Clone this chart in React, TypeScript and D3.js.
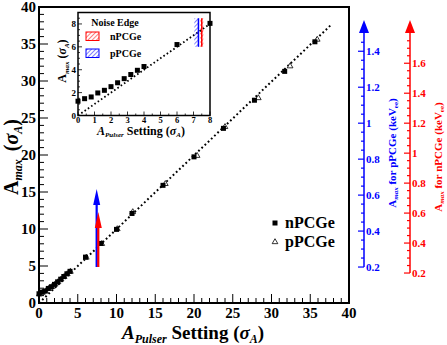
import React, { useEffect, useRef } from 'react';
import * as d3 from 'd3';

// pulser settings (sigma_A) and measured A_max
const nPulser = [0, 0.4, 0.8, 1.2, 1.6, 2.0, 2.4, 2.8, 3.2, 3.6, 4.0, 6.0, 8.0, 10.0, 12.0, 16.0, 20.0, 23.8, 27.8, 31.7, 35.6];
const nAmax = [1.25, 1.47, 1.62, 1.97, 2.2, 2.52, 2.86, 3.22, 3.58, 3.95, 4.28, 6.2, 8.05, 9.95, 12.1, 15.9, 19.75, 23.6, 27.4, 31.3, 35.3];
const pPulser = [0.05, 0.45, 0.85, 1.25, 1.65, 2.05, 2.45, 2.85, 3.25, 3.65, 4.05, 6.1, 8.1, 10.1, 12.1, 16.3, 20.4, 24.0, 28.3, 32.4, 35.9];
const pAmax = [1.2, 1.42, 1.6, 1.93, 2.18, 2.5, 2.83, 3.2, 3.55, 3.92, 4.24, 6.15, 8.0, 10.0, 12.3, 16.1, 19.9, 23.8, 27.7, 32.0, 35.6];

// noise edges: [setting, top of arrow]
const noiseEdgeP = [7.44, 15.4];
const noiseEdgeN = [7.65, 12.3];
// inset bands [x0, x1, line, y0, y1]
const bandP = [7.05, 7.3, 7.3, 6.0, 8.5];
const bandN = [7.4, 7.6, 7.5, 6.0, 8.5];

const xTicks = [0, 5, 10, 15, 20, 25, 30, 35, 40];
const yTicks = [0, 5, 10, 15, 20, 25, 30, 35, 40];
const insetXTicks = [0, 1, 2, 3, 4, 5, 6, 7, 8];
const insetYTicks = [0, 2, 4, 6, 8];
const blueTicks = [0.2, 0.4, 0.6, 0.8, 1.0, 1.2, 1.4];
const redTicks = [0.2, 0.4, 0.6, 0.8, 1.0, 1.2, 1.4, 1.6];
const blueFactor = 24.3; // sigma_A per keVee, pPCGe
const redFactor = 20.25; // sigma_A per keVee, nPCGe

const FONT = '"Liberation Serif", "Times New Roman", serif';
const BLUE = '#0000ff';
const RED = '#ff0000';
const NB = '\u00a0';

function App() {
    const ref = useRef<SVGSVGElement>(null);

    useEffect(() => {
        const svg = d3.select(ref.current);
        svg.selectAll('*').remove();
        svg.style('font-family', FONT).style('font-weight', 'bold');

        const x = d3.scaleLinear().domain([0, 40]).range([39, 349]);
        const y = d3.scaleLinear().domain([0, 40]).range([303, 7]);

        const defs = svg.append('defs');
        [['hatchRed', RED], ['hatchBlue', BLUE]].forEach(([id, c]) => {
            defs.append('pattern')
                .attr('id', id)
                .attr('width', 3).attr('height', 3)
                .attr('patternUnits', 'userSpaceOnUse')
                .attr('patternTransform', 'rotate(45)')
                .append('line')
                .attr('x1', 0).attr('y1', 0).attr('x2', 0).attr('y2', 3)
                .attr('stroke', c).attr('stroke-width', 1);
        });

        // main frame ticks
        const g = svg.append('g');
        d3.range(0, 41, 1).forEach(v => {
            const major = v % 5 === 0;
            g.append('line').attr('x1', x(v)).attr('x2', x(v))
                .attr('y1', 303).attr('y2', 303 - (major ? 9 : 5))
                .attr('stroke', '#000').attr('stroke-width', 1);
            g.append('line').attr('y1', y(v)).attr('y2', y(v))
                .attr('x1', 39).attr('x2', 39 + (major ? 9 : 5))
                .attr('stroke', '#000').attr('stroke-width', 1);
        });
        g.selectAll('.xl').data(xTicks).enter().append('text')
            .attr('x', d => x(d)).attr('y', 318)
            .attr('text-anchor', 'middle').attr('font-size', 15)
            .text(d => d);
        g.selectAll('.yl').data(yTicks).enter().append('text')
            .attr('x', 36).attr('y', d => y(d)).attr('dy', '0.35em')
            .attr('text-anchor', 'end').attr('font-size', 15)
            .text(d => d);

        // y = x reference
        g.append('line')
            .attr('x1', x(0)).attr('y1', y(0)).attr('x2', x(37.8)).attr('y2', y(37.7))
            .attr('stroke', '#000').attr('stroke-width', 2)
            .attr('stroke-dasharray', '1.8,2.6');

        // pPCGe triangles then nPCGe squares
        const tri = d3.symbol().type(d3.symbolTriangle).size(14);
        g.selectAll('.tri').data(pPulser).enter().append('path')
            .attr('d', tri)
            .attr('transform', (d, i) => `translate(${x(d)},${y(pAmax[i])})`)
            .attr('fill', '#fff').attr('stroke', '#000').attr('stroke-width', 0.8);
        g.selectAll('.sq').data(nPulser).enter().append('rect')
            .attr('x', d => x(d) - 2.5)
            .attr('y', (d, i) => y(nAmax[i]) - 2.5)
            .attr('width', 5).attr('height', 5).attr('fill', '#000');

        // noise edge arrows
        const arrow = (px: number, top: number, c: string) => {
            const xx = x(px);
            g.append('line').attr('x1', xx).attr('x2', xx)
                .attr('y1', 267).attr('y2', y(top) + 14)
                .attr('stroke', c).attr('stroke-width', 2.2);
            g.append('path')
                .attr('d', `M${xx - 3.5},${y(top) + 16} L${xx},${y(top)} L${xx + 3.5},${y(top) + 16} Z`)
                .attr('fill', c);
        };
        arrow(noiseEdgeP[0], noiseEdgeP[1], BLUE);
        arrow(noiseEdgeN[0], noiseEdgeN[1], RED);

        g.append('rect').attr('x', 39).attr('y', 7).attr('width', 310).attr('height', 296)
            .attr('fill', 'none').attr('stroke', '#000').attr('stroke-width', 2);

        // legend
        g.append('rect').attr('x', 272.5).attr('y', 220.5).attr('width', 5).attr('height', 5).attr('fill', '#000');
        g.append('path').attr('d', tri).attr('transform', 'translate(275,242)')
            .attr('fill', '#fff').attr('stroke', '#000').attr('stroke-width', 0.8);
        g.append('text').attr('x', 285).attr('y', 228).attr('font-size', 16).text('nPCGe');
        g.append('text').attr('x', 285).attr('y', 247).attr('font-size', 16).text('pPCGe');

        // axis titles
        const xt = g.append('text').attr('x', 193).attr('y', 339).attr('text-anchor', 'middle').attr('font-size', 19);
        xt.append('tspan').attr('font-style', 'italic').text('A');
        xt.append('tspan').attr('font-style', 'italic').attr('font-size', 12).attr('dy', 4).text('Pulser');
        xt.append('tspan').attr('dy', -4).text(NB + 'Setting' + NB + '(');
        xt.append('tspan').attr('font-style', 'italic').text('σ');
        xt.append('tspan').attr('font-style', 'italic').attr('font-size', 12).attr('dy', 4).text('A');
        xt.append('tspan').attr('dy', -4).text(')');

        const yt = g.append('text').attr('transform', 'translate(18,157) rotate(-90)')
            .attr('text-anchor', 'middle').attr('font-size', 20);
        yt.append('tspan').text('A');
        yt.append('tspan').attr('font-style', 'italic').attr('font-size', 12).attr('dy', 4).text('max');
        yt.append('tspan').attr('dy', -4).attr('dx', 3).text(NB + '(');
        yt.append('tspan').attr('font-style', 'italic').text('σ');
        yt.append('tspan').attr('font-style', 'italic').attr('font-size', 12).attr('dy', 4).text('A');
        yt.append('tspan').attr('dy', -4).text(')');

        // right-hand energy axes
        const energyAxis = (ax: number, factor: number, ticks: number[], c: string, name: string, tx: number, ty: number) => {
            const ey = (v: number) => y(v * factor);
            const a = svg.append('g');
            a.append('line').attr('x1', ax).attr('x2', ax)
                .attr('y1', ey(0.2)).attr('y2', 33).attr('stroke', c).attr('stroke-width', 1.5);
            a.append('path').attr('d', `M${ax - 5},33 L${ax},20 L${ax + 5},33 Z`).attr('fill', c);
            d3.range(0.2, ticks[ticks.length - 1] + 0.26, 0.05).forEach(v => {
                if (ey(v) < 36) return;
                const major = Math.abs(Math.round(v * 5) - v * 5) < 1e-6;
                a.append('line').attr('x1', ax).attr('x2', ax - (major ? 6 : 3))
                    .attr('y1', ey(v)).attr('y2', ey(v)).attr('stroke', c).attr('stroke-width', 1.2);
            });
            a.selectAll('.el').data(ticks).enter().append('text')
                .attr('x', ax + 2).attr('y', d => ey(d)).attr('dy', '0.35em')
                .attr('font-size', 11).attr('fill', c)
                .text(d => d3.format('~g')(d));
            const t = a.append('text').attr('transform', `translate(${tx},${ty}) rotate(-90)`)
                .attr('text-anchor', 'middle').attr('font-size', 11).attr('fill', c);
            t.append('tspan').text('A');
            t.append('tspan').attr('font-style', 'italic').attr('font-size', 7).attr('dy', 2).text('max');
            t.append('tspan').attr('dy', -2).text(`${NB}for${NB}${name}${NB}(keV`);
            t.append('tspan').attr('font-size', 7).attr('dy', 2).text('ee');
            t.append('tspan').attr('dy', -2).text(')');
        };
        energyAxis(364, blueFactor, blueTicks, BLUE, 'pPCGe', 396, 153);
        energyAxis(410, redFactor, redTicks, RED, 'nPCGe', 442, 157);

        // inset
        const ix = d3.scaleLinear().domain([0, 8]).range([78, 210]);
        const iy = d3.scaleLinear().domain([0, 9]).range([115.5, 12.5]);
        const ig = svg.append('g');
        ig.append('rect').attr('x', 78).attr('y', 12.5).attr('width', 132).attr('height', 103).attr('fill', '#fff');
        d3.range(0, 8.01, 0.5).forEach(v => {
            const major = v % 1 === 0;
            ig.append('line').attr('x1', ix(v)).attr('x2', ix(v))
                .attr('y1', 115.5).attr('y2', 115.5 - (major ? 4 : 2)).attr('stroke', '#000').attr('stroke-width', 0.8);
        });
        d3.range(0, 9.01, 0.5).forEach(v => {
            const major = v % 2 === 0;
            ig.append('line').attr('y1', iy(v)).attr('y2', iy(v))
                .attr('x1', 78).attr('x2', 78 + (major ? 4 : 2)).attr('stroke', '#000').attr('stroke-width', 0.8);
        });
        ig.selectAll('.ixl').data(insetXTicks).enter().append('text')
            .attr('x', d => ix(d)).attr('y', 122.5).attr('text-anchor', 'middle').attr('font-size', 8.5)
            .text(d => d);
        ig.selectAll('.iyl').data(insetYTicks).enter().append('text')
            .attr('x', 76).attr('y', d => iy(d)).attr('dy', '0.35em').attr('text-anchor', 'end').attr('font-size', 9)
            .text(d => d);

        ig.append('line').attr('x1', ix(0)).attr('y1', iy(0)).attr('x2', ix(8)).attr('y2', iy(8))
            .attr('stroke', '#000').attr('stroke-width', 1.8).attr('stroke-dasharray', '1.6,2.4');

        const band = (b: number[], fill: string, c: string) => {
            ig.append('rect').attr('x', ix(b[0])).attr('width', ix(b[1]) - ix(b[0]))
                .attr('y', iy(b[4])).attr('height', iy(b[3]) - iy(b[4])).attr('fill', fill);
            ig.append('line').attr('x1', ix(b[2])).attr('x2', ix(b[2]))
                .attr('y1', iy(b[3])).attr('y2', iy(b[4])).attr('stroke', c).attr('stroke-width', 1.5);
        };
        band(bandP, 'url(#hatchBlue)', BLUE);
        band(bandN, 'url(#hatchRed)', RED);

        const insetIdx = nPulser.map((d, i) => i).filter(i => nPulser[i] <= 8.1);
        ig.selectAll('.isq').data(insetIdx).enter().append('rect')
            .attr('x', i => ix(nPulser[i]) - 2.5).attr('y', i => iy(nAmax[i]) - 2.5)
            .attr('width', 5).attr('height', 5).attr('fill', '#000');

        ig.append('rect').attr('x', 78).attr('y', 12.5).attr('width', 132).attr('height', 103)
            .attr('fill', 'none').attr('stroke', '#000').attr('stroke-width', 1.5);

        ig.append('text').attr('x', 115).attr('y', 26).attr('text-anchor', 'middle').attr('font-size', 10).text('Noise Edge');
        [['nPCGe', 'url(#hatchRed)', RED, 32], ['pPCGe', 'url(#hatchBlue)', BLUE, 49]].forEach(([name, fill, c, top]) => {
            ig.append('rect').attr('x', 86).attr('y', top as number).attr('width', 13).attr('height', 8.5)
                .attr('fill', fill as string).attr('stroke', c as string).attr('stroke-width', 1);
            ig.append('text').attr('x', 110).attr('y', (top as number) + 7.5).attr('font-size', 10).text(name as string);
        });

        const ixt = ig.append('text').attr('x', 141).attr('y', 135).attr('text-anchor', 'middle').attr('font-size', 12);
        ixt.append('tspan').attr('font-style', 'italic').text('A');
        ixt.append('tspan').attr('font-style', 'italic').attr('font-size', 7).attr('dy', 2).text('Pulser');
        ixt.append('tspan').attr('dy', -2).text(NB + 'Setting' + NB + '(');
        ixt.append('tspan').attr('font-style', 'italic').text('σ');
        ixt.append('tspan').attr('font-style', 'italic').attr('font-size', 7).attr('dy', 2).text('A');
        ixt.append('tspan').attr('dy', -2).text(')');

        const iyt = ig.append('text').attr('transform', 'translate(66,61) rotate(-90)')
            .attr('text-anchor', 'middle').attr('font-size', 12);
        iyt.append('tspan').text('A');
        iyt.append('tspan').attr('font-style', 'italic').attr('font-size', 7).attr('dy', 3).text('max');
        iyt.append('tspan').attr('dy', -3).text(NB + '(');
        iyt.append('tspan').attr('font-style', 'italic').text('σ');
        iyt.append('tspan').attr('font-style', 'italic').attr('font-size', 7).attr('dy', 3).text('A');
        iyt.append('tspan').attr('dy', -3).text(')');
    }, []);

    return (
        <svg ref={ref} width={447} height={345} style={{ position: 'absolute', left: 0, top: 0, background: '#fff' }} />
    );
}

export default App;
